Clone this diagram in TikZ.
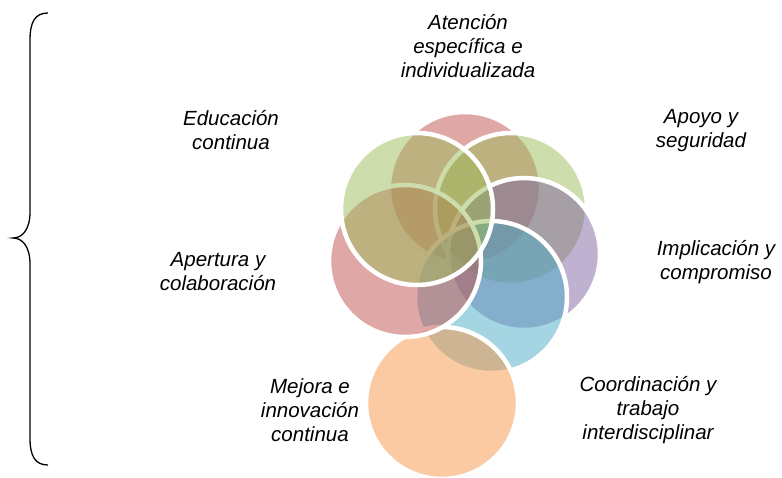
\documentclass[tikz,border=0pt]{standalone}
\usepackage{fontspec}
\setmainfont{Liberation Sans}

\definecolor{rosa}{RGB}{192,80,77}
\definecolor{verde}{RGB}{155,187,89}
\definecolor{lila}{RGB}{128,100,162}
\definecolor{aqua}{RGB}{75,172,198}
\definecolor{naranja}{RGB}{247,150,70}

\begin{document}
\begin{tikzpicture}[x=1pt,y=-1pt,
    bubble/.style={circle,draw=white,line width=4.5pt,minimum size=152pt,
        inner sep=0pt,fill opacity=0.5,draw opacity=1},
    caption/.style={align=center,font=\fontsize{20.5}{24}\selectfont\itshape}]
    \useasboundingbox (0,0) rectangle (782,477);
    % the brace on the left
    \draw[line width=1.3pt] (48,13) .. controls (35,13) and (30,22) .. (30,40)
        -- (30,212) .. controls (30,230) and (22,238) .. (13,238)
        .. controls (22,238) and (30,246) .. (30,264)
        -- (30,438) .. controls (30,456) and (35,465) .. (48,465);
    % circles, clockwise from the top
    \node[bubble,fill=rosa] (atencion) at (465,188) {};
    \node[bubble,fill=verde] (apoyo) at (511,209) {};
    \node[bubble,fill=lila] (implicacion) at (524,254) {};
    \node[bubble,fill=aqua] (coordinacion) at (491,297) {};
    \node[bubble,fill=naranja] (mejora) at (442,403) {};
    \node[bubble,fill=rosa] (apertura) at (405,261) {};
    \node[bubble,fill=verde] (educacion) at (417,209) {};
    % labels
    \node[caption] (tAtencion) at (468,46) {Atención\\específica e\\individualizada};
    \node[caption] (tApoyo) at (701,131) {Apoyo y\\seguridad};
    \node[caption] (tImplicacion) at (716,262) {Implicación y\\compromiso};
    \node[caption] (tCoordinacion) at (648,410) {Coordinación y\\trabajo\\interdisciplinar};
    \node[caption] (tMejora) at (310,410) {Mejora e\\innovación\\continua};
    \node[caption] (tApertura) at (218,272) {Apertura y\\colaboración};
    \node[caption] (tEducacion) at (231,130) {Educación\\continua};
\end{tikzpicture}
\end{document}
